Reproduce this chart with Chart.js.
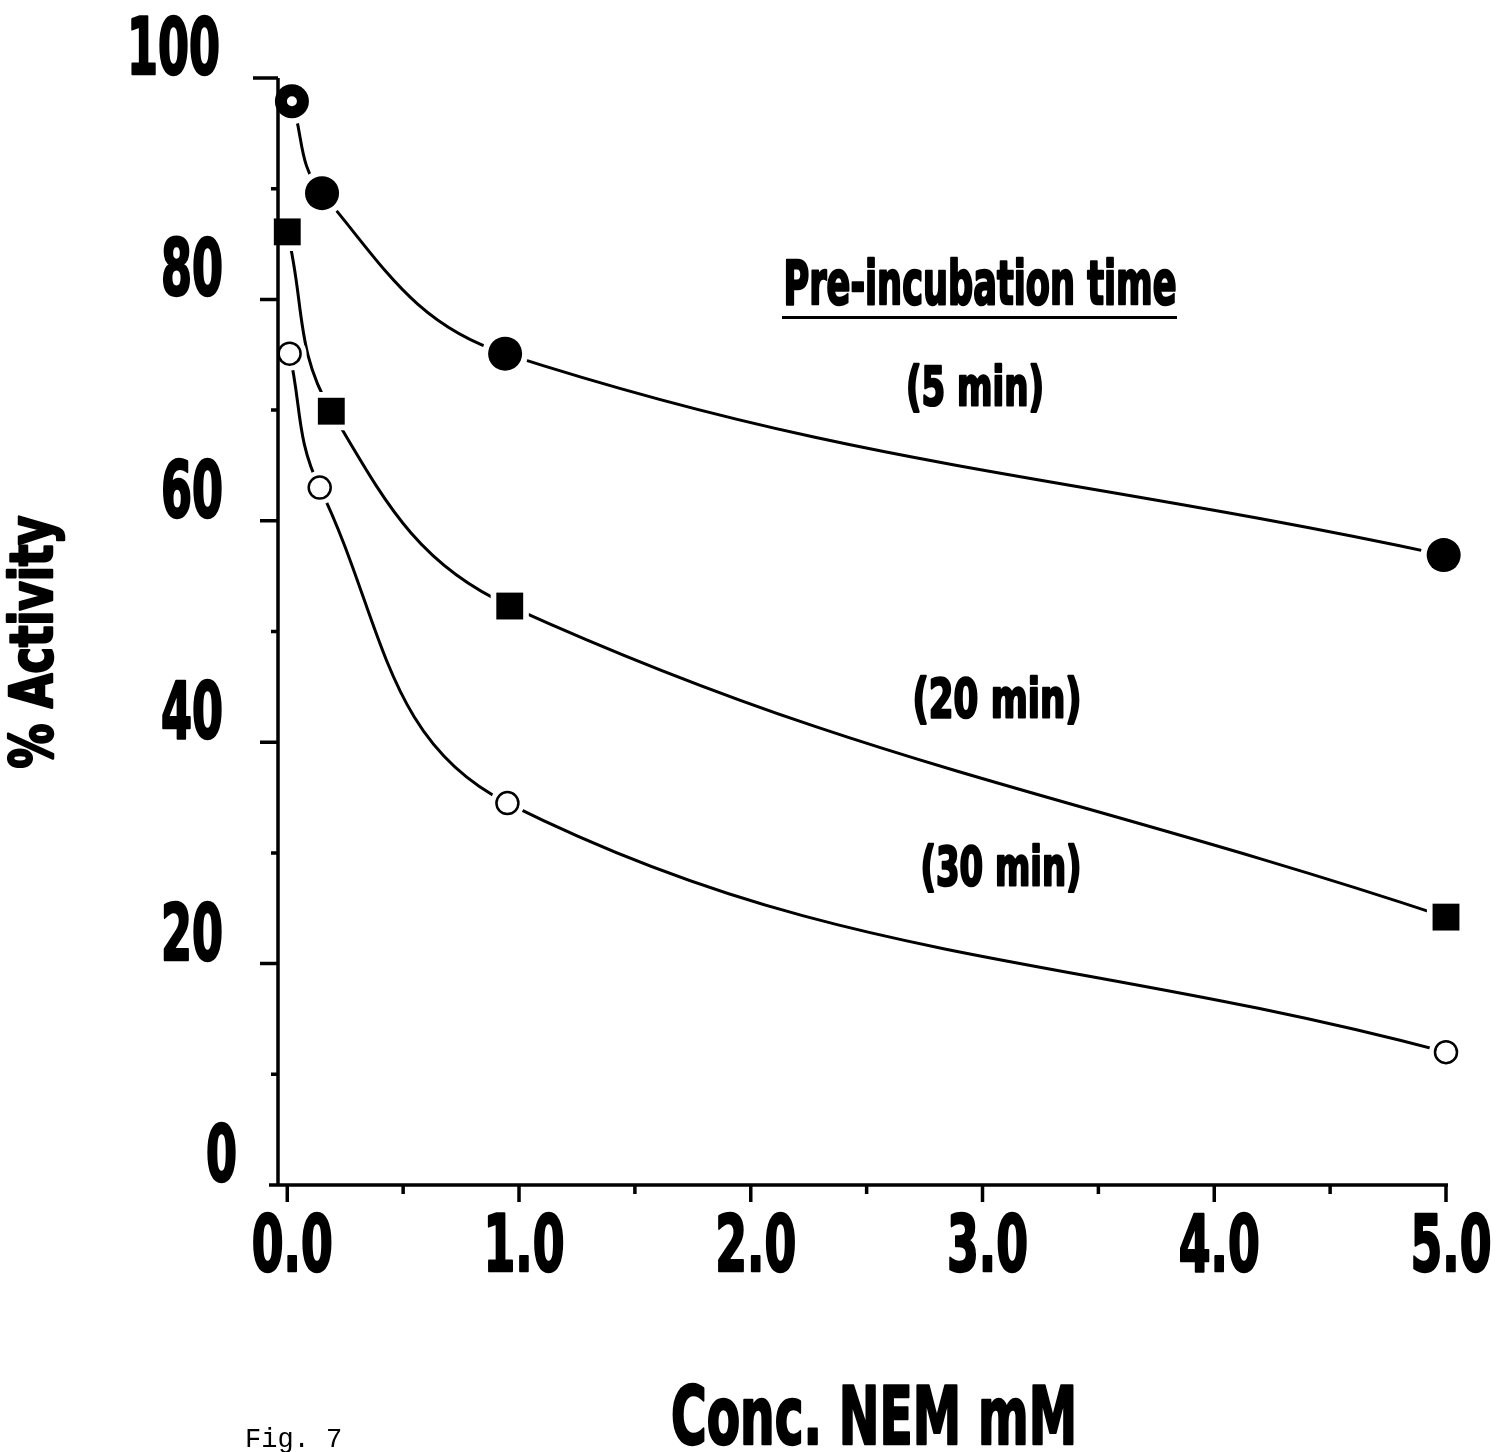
<!DOCTYPE html>
<html>
<head>
<meta charset="utf-8">
<script src="https://cdn.jsdelivr.net/npm/chart.js@4.4.1/dist/chart.umd.min.js"></script>
<style>
    html, body { margin: 0; padding: 0; background: #fff; }
    #wrap { width: 1503px; height: 1452px; position: relative; }
</style>
</head>
<body>
<div id="wrap"><canvas id="myChart"></canvas></div>
<script>
// NEM concentration (mM) vs % activity, one pair of arrays per pre-incubation time
var conc5 = [0.02, 0.15, 0.94, 4.99];
var act5 = [97.9, 89.6, 75.1, 56.9];
var conc20 = [0.0, 0.19, 0.96, 5.0];
var act20 = [86.1, 69.9, 52.3, 24.2];
var conc30 = [0.01, 0.14, 0.95, 5.0];
var act30 = [75.1, 63.0, 34.5, 12.0];

var xTickValues = [0, 0.5, 1, 1.5, 2, 2.5, 3, 3.5, 4, 4.5, 5];
var yTickValues = [0, 10, 20, 30, 40, 50, 60, 70, 80, 90, 100];
var seriesNames = ["(5 min)", "(20 min)", "(30 min)"];
var noteTitle = "Pre-incubation time";
var xTitle = "Conc. NEM mM";
var yTitle = "% Activity";

var bold = '"DejaVu Sans Condensed", "DejaVu Sans", sans-serif';

function pts(xs, ys) {
    return xs.map(function (x, i) { return { x: x, y: ys[i] }; });
}

var s5 = pts(conc5, act5);
var s20 = pts(conc20, act20);
var s30 = pts(conc30, act30);

function lineSet(d) {
    return { data: d, showLine: true, borderColor: '#000', borderWidth: 3, tension: 0.4,
             pointRadius: 0, clip: false, order: 3 };
}
function haloSet(d, style, r) {
    return { data: d, showLine: false, pointStyle: style, pointRadius: r, pointBorderWidth: 0,
             pointBackgroundColor: '#fff', clip: false, order: 2 };
}

var datasets = [
    lineSet(s5), lineSet(s20), lineSet(s30),
    haloSet(s5, 'circle', 23), haloSet(s20, 'rect', 27), haloSet(s30, 'circle', 17),
    // 5 min: first point is a heavy open ring, the rest filled circles
    { data: s5, showLine: false, pointStyle: 'circle', pointRadius: [11, 17, 17, 17],
      pointBorderWidth: [12, 0, 0, 0], pointBorderColor: '#000',
      pointBackgroundColor: ['#fff', '#000', '#000', '#000'], clip: false, order: 1 },
    // 20 min: filled squares
    { data: s20, showLine: false, pointStyle: 'rect', pointRadius: 19, pointBorderWidth: 0,
      pointBackgroundColor: '#000', clip: false, order: 1 },
    // 30 min: open circles
    { data: s30, showLine: false, pointStyle: 'circle', pointRadius: 11, pointBorderWidth: 2.5,
      pointBorderColor: '#000', pointBackgroundColor: '#fff', clip: false, order: 1 }
];

// squeeze text horizontally (and thicken it) to look like the heavy narrow type of the original
function squeezed(ctx, text, x, y, size, width, align, angle) {
    ctx.save();
    ctx.font = 'bold ' + size + 'px ' + bold;
    var w = ctx.measureText(text).width;
    var k = width / w;
    ctx.translate(x, y);
    if (angle) ctx.rotate(angle);
    ctx.scale(k, 1);
    ctx.textAlign = align;
    ctx.textBaseline = 'alphabetic';
    ctx.lineWidth = 2.5;
    ctx.lineJoin = 'round';
    ctx.strokeStyle = '#000';
    ctx.fillText(text, 0, 0);
    ctx.strokeText(text, 0, 0);
    ctx.restore();
}

// axis lines, tick marks (major ones longer) and tick labels
var axesPlugin = {
    id: 'axesPlugin',
    afterDatasetsDraw: function (chart) {
        var ctx = chart.ctx, a = chart.chartArea, sx = chart.scales.x, sy = chart.scales.y;
        ctx.save();
        ctx.strokeStyle = '#000';
        ctx.lineWidth = 3.5;
        ctx.beginPath();
        ctx.moveTo(a.left, a.top);
        ctx.lineTo(a.left, a.bottom);
        ctx.moveTo(a.left - 9, a.bottom);
        ctx.lineTo(a.right + 2, a.bottom);
        sx.ticks.forEach(function (t) {
            var px = sx.getPixelForValue(t.value);
            var len = t.value % 1 === 0 ? 17 : 9;
            ctx.moveTo(px, a.bottom);
            ctx.lineTo(px, a.bottom + len);
        });
        sy.ticks.forEach(function (t) {
            if (t.value === 0) return;
            var py = sy.getPixelForValue(t.value);
            var len = t.value === 100 ? 25 : (t.value % 20 === 0 ? 18 : 7);
            ctx.moveTo(a.left, py);
            ctx.lineTo(a.left - len, py);
        });
        ctx.stroke();
        ctx.restore();

        ctx.save();
        ctx.fillStyle = '#000';
        var digit = 31;
        sy.ticks.forEach(function (t) {
            if (t.value % 20 !== 0) return;
            var s = String(t.value);
            var py = sy.getPixelForValue(t.value);
            var right = t.value === 0 ? 237 : (t.value === 100 ? 220 : 223);
            squeezed(ctx, s, right, py - 4, 79, digit * s.length, 'right');
        });
        sx.ticks.forEach(function (t) {
            if (t.value % 1 !== 0) return;
            var s = t.value.toFixed(1);
            var px = sx.getPixelForValue(t.value);
            squeezed(ctx, s, px + 5, a.bottom + 86, 79, 81, 'center');
        });
        ctx.restore();
    }
};

// axis titles, series captions, legend heading and figure number
var notesPlugin = {
    id: 'notesPlugin',
    afterDraw: function (chart) {
        var ctx = chart.ctx;
        ctx.save();
        ctx.fillStyle = '#000';
        squeezed(ctx, xTitle, 874, 1444, 81, 406, 'center');
        squeezed(ctx, yTitle, 52, 642, 59, 253, 'center', -Math.PI / 2);
        squeezed(ctx, noteTitle, 980, 304, 61, 393, 'center');
        ctx.fillRect(782, 316, 395, 3);
        squeezed(ctx, seriesNames[0], 975, 405, 54, 138, 'center');
        squeezed(ctx, seriesNames[1], 997, 717, 54, 169, 'center');
        squeezed(ctx, seriesNames[2], 1001, 885, 54, 161, 'center');
        ctx.font = '27px "Liberation Mono", "DejaVu Sans Mono", monospace';
        ctx.textAlign = 'left';
        ctx.textBaseline = 'alphabetic';
        ctx.fillText('Fig. 7', 245, 1447);
        ctx.restore();
    }
};

new Chart("myChart", {
    type: "scatter",
    data: { datasets: datasets },
    options: {
        responsive: true,
        maintainAspectRatio: false,
        animation: false,
        events: [],
        layout: { padding: { left: 0, right: 57, top: 78, bottom: 0 } },
        plugins: { legend: { display: false }, tooltip: { enabled: false } },
        scales: {
            x: {
                type: 'linear', min: -0.04, max: 5,
                afterBuildTicks: function (s) { s.ticks = xTickValues.map(function (v) { return { value: v }; }); },
                afterFit: function (s) { s.height = 267; },
                grid: { display: false },
                border: { display: false },
                ticks: { display: false }
            },
            y: {
                type: 'linear', min: 0, max: 100,
                afterBuildTicks: function (s) { s.ticks = yTickValues.map(function (v) { return { value: v }; }); },
                afterFit: function (s) { s.width = 278; },
                grid: { display: false },
                border: { display: false },
                ticks: { display: false }
            }
        }
    },
    plugins: [axesPlugin, notesPlugin]
});
</script>
</body>
</html>
